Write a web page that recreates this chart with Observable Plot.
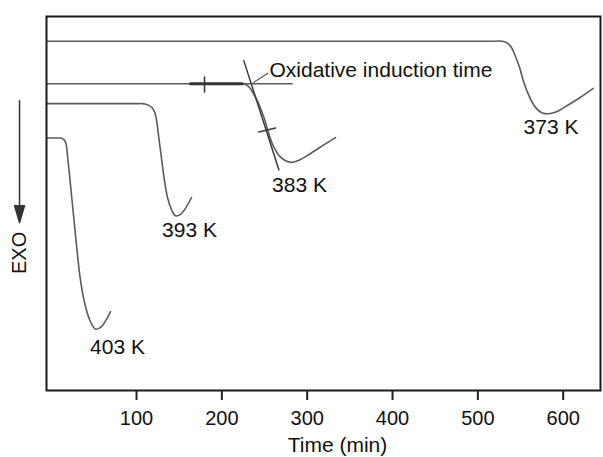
<!DOCTYPE html>
<html>
<head>
<meta charset="utf-8">
<script src="https://cdn.jsdelivr.net/npm/d3@7"></script>
<script src="https://cdn.jsdelivr.net/npm/@observablehq/plot@0.6"></script>
<style>
  html, body { margin: 0; padding: 0; background: #fff; }
  svg { display: block; }
</style>
</head>
<body>
<div id="chart"></div>
<script>
// ---- data (time in min, heat flow in arbitrary units, EXO down) ----
const curveNames = ["373 K", "383 K", "393 K", "403 K"];

const time373 = [-5, 520, 528.5, 534.7, 539.4, 544.1, 548.8, 553.8, 559.7, 567.5, 575.4, 583.1, 593.0, 604.7, 620.3, 635.2];
const heat373 = [93.4, 93.4, 93.4, 92.9, 91.7, 89.3, 86.4, 82.4, 78.9, 75.7, 74.2, 74.0, 74.6, 76.2, 78.4, 80.8];

const time383 = [218, 223.9, 228.9, 233.6, 237.7, 241.4, 249.2, 255.0, 260.9, 268.7, 280.5, 289.8, 300.0, 315.6, 333.2];
const heat383 = [82.0, 82.0, 81.7, 80.7, 79.1, 77.5, 73.1, 68.6, 65.1, 62.4, 61.0, 61.5, 62.8, 65.1, 67.6];

const time393 = [-5, 100, 106.7, 114.0, 119.9, 122.9, 125.8, 129.3, 132.8, 136.3, 141.0, 145.7, 151.6, 157.4, 164.4];
const heat393 = [76.7, 76.7, 76.7, 76.3, 75.1, 73.0, 68.2, 62.0, 56.1, 51.6, 48.4, 46.7, 47.1, 48.7, 51.6];

const time403 = [-5, 6, 10.9, 15.0, 17.4, 19.1, 22.7, 26.2, 30.3, 34.4, 39.1, 44.9, 51.9, 59.0, 64.8, 69.5];
const heat403 = [67.5, 67.5, 67.5, 67.1, 66.0, 62.8, 54.8, 46.8, 37.4, 29.4, 23.5, 19.0, 16.4, 17.1, 19.0, 21.1];

// 383 K construction for the oxidative induction time
const baselineTime383 = [-5, 282.4];
const baselineHeat383 = [82.0, 82.0];
const heavyTime383 = [163.3, 223.9];
const tickTime383 = [179.7, 179.7];
const tickHeat383 = [83.8, 79.8];
const tangentTime = [225.7, 266.8];
const tangentHeat = [88.2, 59.0];
const tangentTickTime = [243.3, 262.9];
const tangentTickHeat = [69.1, 70.2];
const leaderTime = [237.5, 253.9];
const leaderHeat = [82.4, 84.8];

// labels
const labelTime = [585.7, 291.0, 162.1, 77.7];
const labelHeat = [70.3, 54.8, 42.8, 11.5];
const noteText = "Oxidative induction time";
const noteTime = 255.8, noteHeat = 85.6;

const xTicks = [100, 200, 300, 400, 500, 600];
const xDomain = [-5.5, 643.7];
const yDomain = [0, 100];
const xTitle = "Time (min)";
const yTitle = "EXO";
const exoTime = -36.5, exoHeat = 36.8;
const arrowTime = -37.1, arrowHeat = 77.5;

// ---- build tables ----
const toRows = (ts, hs, name) => ts.map((t, i) => ({t, h: hs[i], name}));
const curves = [
  ...toRows(time373, heat373, curveNames[0]),
  ...toRows(time383, heat383, curveNames[1]),
  ...toRows(time393, heat393, curveNames[2]),
  ...toRows(time403, heat403, curveNames[3])
];
const labels = curveNames.map((name, i) => ({name, t: labelTime[i], h: labelHeat[i]}));

const font = "'Liberation Sans', Arial, Helvetica, sans-serif";
const curveColor = "#5f5959";

const arrowShape = {
  draw(context, l) {
    context.moveTo(0, 0);
    context.lineTo(0, -l + 14);
    context.moveTo(-5, -l + 17);
    context.lineTo(0, -l);
    context.lineTo(5, -l + 17);
    context.closePath();
  }
};

const chart = Plot.plot({
  width: 603,
  height: 457,
  marginLeft: 46,
  marginRight: 3,
  marginTop: 16,
  marginBottom: 67,
  style: {fontFamily: font, fontSize: "20px", color: "#111", background: "#fff"},
  x: {domain: xDomain},
  y: {domain: yDomain, axis: null},
  marks: [
    Plot.line(curves, {x: "t", y: "h", z: "name", stroke: curveColor, strokeWidth: 1.6, curve: "catmull-rom"}),
    Plot.line(toRows(baselineTime383, baselineHeat383, "b"), {x: "t", y: "h", stroke: curveColor, strokeWidth: 1.6}),
    Plot.line(toRows(heavyTime383, baselineHeat383, "hv"), {x: "t", y: "h", stroke: "#333", strokeWidth: 3}),
    Plot.line(toRows(tickTime383, tickHeat383, "tk"), {x: "t", y: "h", stroke: "#333", strokeWidth: 1.5}),
    Plot.line(toRows(tangentTime, tangentHeat, "tg"), {x: "t", y: "h", stroke: "#3a3a3a", strokeWidth: 1.5}),
    Plot.line(toRows(tangentTickTime, tangentTickHeat, "tt"), {x: "t", y: "h", stroke: "#3a3a3a", strokeWidth: 1.5}),
    Plot.line(toRows(leaderTime, leaderHeat, "ld"), {x: "t", y: "h", stroke: "#555", strokeWidth: 1.2}),
    Plot.text(labels, {x: "t", y: "h", text: "name", fontSize: 21, fill: "#111"}),
    Plot.text([noteText], {x: () => noteTime, y: () => noteHeat, text: d => d, textAnchor: "start", fontSize: 21, fill: "#111"}),
    Plot.frame({stroke: "#1a1a1a", strokeWidth: 2}),
    Plot.axisX({ticks: xTicks, tickSize: 10, tickPadding: 10, stroke: "#222", strokeWidth: 2, fontSize: 20, fill: "#111", label: null}),
    Plot.text([xTitle], {frameAnchor: "bottom", dx: 14, dy: 61, text: d => d, fontSize: 21, fill: "#111"}),
    Plot.text([yTitle], {x: () => exoTime, y: () => exoHeat, text: d => d, rotate: -90, fontSize: 20, fill: "#111"}),
    Plot.vector([0], {x: () => arrowTime, y: () => arrowHeat, length: 122, rotate: 180, anchor: "start", shape: arrowShape, stroke: "#333", fill: "#333", strokeWidth: 1.5})
  ]
});
document.getElementById("chart").appendChild(chart);
</script>
</body>
</html>
